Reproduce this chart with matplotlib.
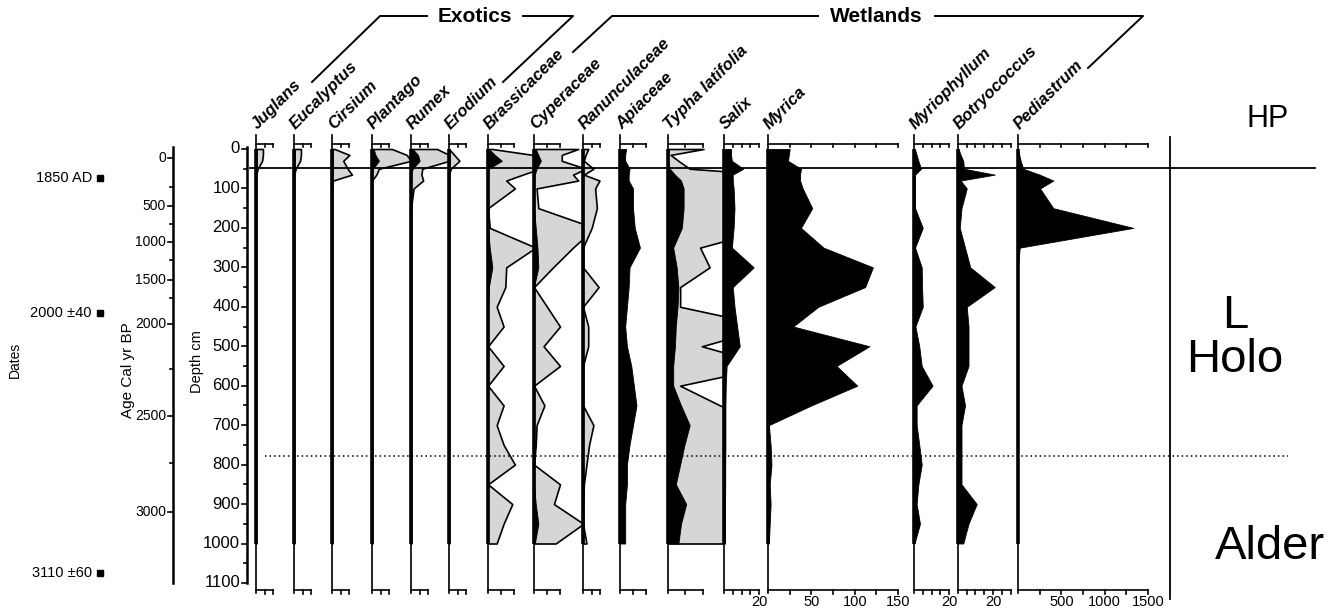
import matplotlib.pyplot as plt
import matplotlib.transforms as mtransforms

plt.rcParams['font.family'] = ['Liberation Sans', 'DejaVu Sans']

W, H = 1342, 612

# sample depths (cm)
depth = [0, 15, 30, 50, 65, 80, 100, 150, 200, 250, 300, 350, 400, 450, 500,
         550, 600, 650, 700, 750, 800, 850, 900, 950, 1000]

# percentages (black) and exaggerated curves (grey)
juglans = [1, 1, 1, 0.5, 0, 0, 0, 0, 0, 0, 0, 0, 0, 0, 0, 0, 0, 0, 0, 0, 0, 0, 0, 0, 0]
juglans_x = [8, 8, 7, 2, 0, 0, 0, 0, 0, 0, 0, 0, 0, 0, 0, 0, 0, 0, 0, 0, 0, 0, 0, 0, 0]
eucalyptus = [1, 1, 1, 0.5, 0, 0, 0, 0, 0, 0, 0, 0, 0, 0, 0, 0, 0, 0, 0, 0, 0, 0, 0, 0, 0]
eucalyptus_x = [8, 8, 7, 2, 0, 0, 0, 0, 0, 0, 0, 0, 0, 0, 0, 0, 0, 0, 0, 0, 0, 0, 0, 0, 0]
cirsium = [0.5, 1, 1, 1, 1, 0, 0, 0, 0, 0, 0, 0, 0, 0, 0, 0, 0, 0, 0, 0, 0, 0, 0, 0, 0]
cirsium_x = [3, 20, 13, 18, 23, 1, 0, 0, 0, 0, 0, 0, 0, 0, 0, 0, 0, 0, 0, 0, 0, 0, 0, 0, 0]
plantago = [2, 4, 8, 1, 0, 0, 0, 0, 0, 0, 0, 0, 0, 0, 0, 0, 0, 0, 0, 0, 0, 0, 0, 0, 0]
plantago_x = [23, 40, 45, 8, 5, 0, 0, 0, 0, 0, 0, 0, 0, 0, 0, 0, 0, 0, 0, 0, 0, 0, 0, 0, 0]
rumex = [2, 8, 10, 2, 0, 0, 0, 0, 0, 0, 0, 0, 0, 0, 0, 0, 0, 0, 0, 0, 0, 0, 0, 0, 0]
rumex_x = [30, 44, 44, 13, 12, 14, 3, 0, 0, 0, 0, 0, 0, 0, 0, 0, 0, 0, 0, 0, 0, 0, 0, 0, 0]
erodium = [0, 0.5, 1, 0.3, 0, 0, 0, 0, 0, 0, 0, 0, 0, 0, 0, 0, 0, 0, 0, 0, 0, 0, 0, 0, 0]
erodium_x = [0, 6, 12, 2, 0, 0, 0, 0, 0, 0, 0, 0, 0, 0, 0, 0, 0, 0, 0, 0, 0, 0, 0, 0, 0]
brassicaceae = [1, 8, 16, 1, 0, 0, 0, 0, 0, 2, 5, 1, 0, 0, 0, 0, 0, 0, 0, 0, 0, 0, 0, 0, 0]
brassicaceae_x = [5, 52, 52, 60, 40, 21, 31, 0, 2, 55, 21, 20, 10, 18, 0, 18, 0, 18, 10, 18,
                  31, 0, 28, 18, 10]
cyperaceae = [2, 5, 8, 3, 1, 0, 0, 0, 2, 4, 5, 0, 0, 0, 0, 0, 0, 0, 0, 0, 0, 0, 2, 5, 1]
cyperaceae_x = [51, 32, 32, 60, 45, 51, 3, 5, 70, 45, 22, 0, 15, 30, 11, 30, 0, 12, 3, 2,
                0, 30, 23, 57, 25]
ranunculaceae = [0.3] * 25
ranunculaceae_x = [6, 3, 1, 12, 1, 19, 14, 16, 10, 0, 0, 18, 0, 6, 6, 0, 0, 0, 12, 7,
                   4, 1, 0, 0, 4]
apiaceae = [7, 6, 6, 11, 10, 10, 15, 15, 17, 23, 11, 10, 8, 6, 8, 13, 16, 19, 15, 11,
            8, 8, 6, 6, 6]
typha = [0, 0, 0, 2, 8, 15, 18, 18, 16, 6, 10, 12, 11, 9, 8, 6, 6, 15, 25, 19, 14, 9,
         21, 15, 12]
typha_x = [41, 3, 12, 25, 120, 120, 120, 120, 120, 37, 48, 14, 14, 120, 39, 120, 14, 60,
           120, 120, 120, 120, 120, 120, 120]
salix = [4, 4, 4.5, 11, 5, 5, 5.5, 6, 5.5, 4.5, 17, 5, 6, 7.5, 9, 1.5, 1, 0.8, 0.8, 0.8,
         0.7, 0.7, 0.6, 0.6, 0.6]
myrica = [25, 24, 23, 38, 37, 37, 40, 51, 38, 64, 121, 112, 58, 29, 117, 79, 103, 50, 1,
          3, 4, 2, 3, 2, 1]
myriophyllum = [0.5, 1.5, 2.5, 4, 0.6, 0.6, 0.6, 0.6, 5, 0.6, 4.4, 4.6, 5, 0.8, 3, 4.4,
                10.6, 1.5, 1.5, 3, 4.4, 2.5, 1.5, 3.4, 0.3]
botryococcus = [0.3, 1.5, 3, 3.4, 21, 1.5, 5, 2, 1, 4, 7, 21, 5, 6, 6, 6, 2, 4, 2, 2, 2,
                2, 10.7, 6, 3]
pediastrum = [0, 15, 30, 60, 250, 407, 254, 407, 1330, 20, 0, 0, 0, 0, 0, 0, 0, 0, 0, 0,
              0, 0, 0, 0, 0]

# age model ticks and their depths
age_ticks = [0, 500, 1000, 1500, 2000, 2500, 3000]
age_tick_depth = [23, 145, 236, 332, 444, 677, 920]
age_minor_depth = [96, 190, 281, 378, 558, 796]

dates = ['1850 AD', '2000 \u00b140', '3110 \u00b160']
date_depth = [74, 416, 1075]

zone_lines = [48]
zone_dotted = [778]

# name, baseline px, px per unit, scale max, scale ticks, black, grey, bottom labels
panels = [
    ('Juglans', 256, 0.867, 20, [0, 10, 20], juglans, juglans_x, []),
    ('Eucalyptus', 294, 0.867, 20, [0, 10, 20], eucalyptus, eucalyptus_x, []),
    ('Cirsium', 332, 0.867, 20, [0, 10, 20], cirsium, cirsium_x, []),
    ('Plantago', 372, 0.867, 20, [0, 10, 20], plantago, plantago_x, []),
    ('Rumex', 411, 0.867, 20, [0, 10, 20], rumex, rumex_x, []),
    ('Erodium', 449, 0.867, 20, [0, 10, 20], erodium, erodium_x, []),
    ('Brassicaceae', 488, 0.867, 30, [0, 15, 30], brassicaceae, brassicaceae_x, []),
    ('Cyperaceae', 534, 0.867, 30, [0, 15, 30], cyperaceae, cyperaceae_x, []),
    ('Ranunculaceae', 583, 0.867, 20, [0, 10, 20], ranunculaceae, ranunculaceae_x, []),
    ('Apiaceae', 620, 0.867, 30, [0, 15, 30], apiaceae, None, []),
    ('Typha latifolia', 668, 0.867, 40, [0, 20, 40], typha, typha_x, []),
    ('Salix', 724, 1.75, 20, [0, 5, 10, 15, 20], salix, None, [20]),
    ('Myrica', 768, 0.867, 150, [0, 25, 50, 75, 100, 125, 150], myrica, None, [50, 100, 150]),
    ('Myriophyllum', 914, 1.75, 20, [0, 5, 10, 15, 20], myriophyllum, None, [20]),
    ('Botryococcus', 958, 1.75, 30, [0, 5, 10, 15, 20, 25, 30], botryococcus, None, [20]),
    ('Pediastrum', 1018, 0.0867, 1500, [0, 250, 500, 750, 1000, 1250, 1500], pediastrum,
     None, [500, 1000, 1500]),
]
right_edge = 1170

# vertical mapping: depth 0 at y=149 px, 0.3945 px per cm
PX_CM = 0.3945
Y0 = 149
D_TOP, D_BOT = -60, 1150
ax_top_px = Y0 + D_TOP * PX_CM
ax_bot_px = Y0 + D_BOT * PX_CM

fig = plt.figure(figsize=(W / 100, H / 100), dpi=100)
pxT = mtransforms.Affine2D().scale(1 / W, -1 / H).translate(0, 1) + fig.transFigure

grey = '#d6d6d6'
label_font = dict(fontsize=12, fontweight='bold', fontstyle='italic')

bases = [p[1] for p in panels] + [right_edge]
for i, (name, base, ppu, smax, sticks, black, exag, blabels) in enumerate(panels):
    wpx = bases[i + 1] - base
    ax = fig.add_axes([base / W, (H - ax_bot_px) / H, wpx / W, (ax_bot_px - ax_top_px) / H])
    ax.set_xlim(0, wpx / ppu)
    ax.set_ylim(D_BOT, D_TOP)
    ax.axis('off')
    ax.patch.set_alpha(0)
    if exag is not None:
        ax.fill_betweenx(depth, 0, exag, facecolor=grey, edgecolor='k', linewidth=1.2)
    ax.fill_betweenx(depth, 0, black, facecolor='k', edgecolor='k', linewidth=0.6)
    # baseline
    ax.plot([0, 0], [-35, 1125], color='k', lw=1.2, clip_on=False)
    ax.plot([0, 0], [0, 1000], color='k', lw=2.6, clip_on=False, solid_capstyle='butt')
    # scale bars top and bottom
    for yb in (-13, 1118):
        ax.plot([0, smax], [yb, yb], color='k', lw=1.2, clip_on=False)
        for t in sticks[1:]:
            ax.plot([t, t], [yb, yb + 9], color='k', lw=1.2, clip_on=False)
    for v in blabels:
        ax.text(v, 1130, str(v), ha='center', va='top', fontsize=10.5, clip_on=False)
    ax.text(4 / ppu, -42, name, rotation=45, rotation_mode='anchor', ha='left',
            va='bottom', clip_on=False, **label_font)

# overlay in pixel x / depth y
bg = fig.add_axes([0, 0, 1, 1], zorder=10)
bg.set_xlim(0, W)
bg.set_ylim((H - Y0) / PX_CM, -Y0 / PX_CM)
bg.axis('off')
bg.patch.set_alpha(0)

for d in zone_lines:
    bg.plot([250, 1315], [d, d], color='k', lw=1.3)
for d in zone_dotted:
    bg.plot([265, 1288], [d, d], color='k', lw=1.1, ls=(0, (1, 2)))
bg.plot([right_edge, right_edge], [-30, 1140], color='k', lw=1.3)

# age axis
bg.plot([173, 173], [-5, 1100], color='k', lw=1.8)
for a, d in zip(age_ticks, age_tick_depth):
    bg.plot([168, 173], [d, d], color='k', lw=1.2)
    bg.text(166, d, str(a), ha='right', va='center', fontsize=10)
for d in age_minor_depth:
    bg.plot([170, 173], [d, d], color='k', lw=1.2)

# depth axis
bg.plot([247, 247], [-5, 1100], color='k', lw=1.8)
for d in range(0, 1101, 100):
    bg.plot([242, 247], [d, d], color='k', lw=1.2)
    bg.text(240, d, str(d), ha='right', va='center', fontsize=12)
for d in range(50, 1100, 100):
    bg.plot([244, 247], [d, d], color='k', lw=1.2)

# radiocarbon dates
for lab, d in zip(dates, date_depth):
    bg.plot(100, d, marker='s', ms=4.5, color='k', mec='k')
    bg.text(92, d, lab, ha='right', va='center', fontsize=10.5)

bg.text(15, (360 - Y0) / PX_CM, 'Dates', rotation=90, ha='center', va='center', fontsize=10)
bg.text(128, (370 - Y0) / PX_CM, 'Age Cal yr BP', rotation=90, ha='center', va='center',
        fontsize=11)
bg.text(197, (362 - Y0) / PX_CM, 'Depth cm', rotation=90, ha='center', va='center',
        fontsize=10.5)

# zone names
bg.text(1268, (119 - Y0) / PX_CM, 'HP', ha='center', va='center', fontsize=22)
bg.text(1235, (338 - Y0) / PX_CM, 'L\nHolo', ha='center', va='center', fontsize=34,
        linespacing=1.0)
bg.text(1270, (547 - Y0) / PX_CM, 'Alder', ha='center', va='center', fontsize=34)

# group brackets
fig.lines.append(plt.Line2D([312, 380, 427], [82, 16, 16], color='k', lw=1.4, transform=pxT))
fig.lines.append(plt.Line2D([523, 573, 503], [16, 16, 82], color='k', lw=1.4, transform=pxT))
fig.text(475, 17, 'Exotics', transform=pxT, ha='center', va='center', fontsize=15,
         fontweight='bold')
fig.lines.append(plt.Line2D([573, 612, 818], [52, 16, 16], color='k', lw=1.4, transform=pxT))
fig.lines.append(plt.Line2D([935, 1143, 1088], [16, 16, 68], color='k', lw=1.4, transform=pxT))
fig.text(876, 17, 'Wetlands', transform=pxT, ha='center', va='center', fontsize=15,
         fontweight='bold')

fig.savefig('out.png', dpi=100)
